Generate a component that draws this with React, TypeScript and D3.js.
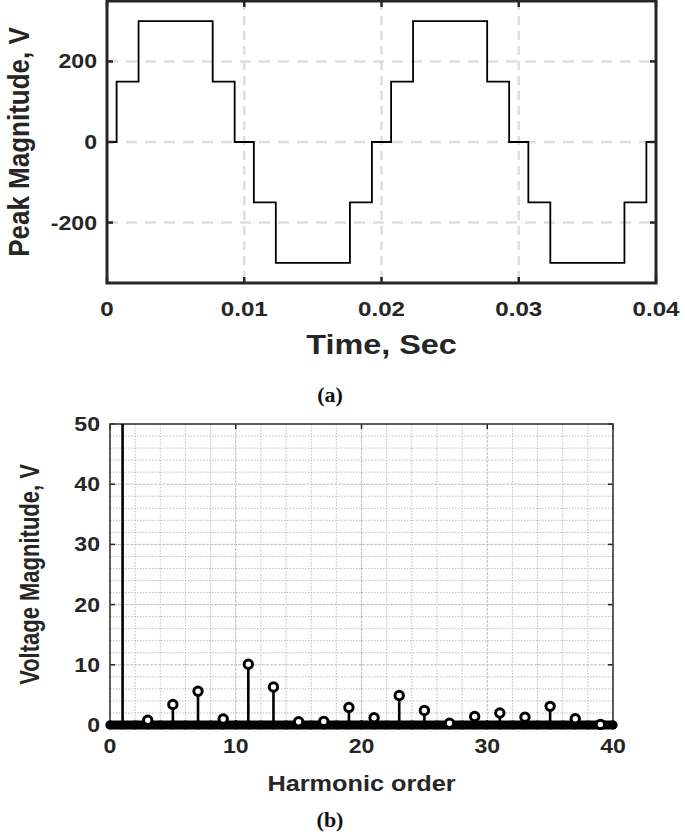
import React from "react";
import * as d3 from "d3";

// ---------- data ----------
// (a) stepped output voltage: switching instants (s) and the level held after each
const stepTimes = [0, 0.0007, 0.0023, 0.0077, 0.0093, 0.0107, 0.0123, 0.0177, 0.0193, 0.0207, 0.0223, 0.0277, 0.0293, 0.0307, 0.0323, 0.0377, 0.0393, 0.04];
const stepLevels = [0, 150, 300, 150, 0, -150, -300, -150, 0, 150, 300, 150, 0, -150, -300, -150, 0];
const timeTicks = [0, 0.01, 0.02, 0.03, 0.04];
const timeTickLabels = ["0", "0.01", "0.02", "0.03", "0.04"];
const voltTicks = [-200, 0, 200];

// (b) harmonic spectrum
const harmonicOrders = [1, 3, 5, 7, 9, 11, 13, 15, 17, 19, 21, 23, 25, 27, 29, 31, 33, 35, 37, 39];
const harmonicMags = [254, 0.8, 3.4, 5.6, 1.0, 10.1, 6.3, 0.55, 0.6, 2.9, 1.2, 4.9, 2.4, 0.3, 1.4, 2.0, 1.3, 3.1, 1.05, 0.1];
const orderTicks = [0, 10, 20, 30, 40];
const magTicks = [0, 10, 20, 30, 40, 50];

const FONT = "'Liberation Sans', Arial, Helvetica, sans-serif";
const SERIF = "'Liberation Serif', 'DejaVu Serif', serif";
const AX = "#262626";

export default function App() {
  // ---- top plot geometry ----
  const tL = 107, tR = 656, tT = 1, tB = 283;
  const xT = d3.scaleLinear().domain([0, 0.04]).range([tL, tR]);
  const yT = d3.scaleLinear().domain([-350, 350]).range([tB, tT]);
  const wavePts: [number, number][] = stepLevels.map((v, i) => [stepTimes[i], v]);
  wavePts.push([stepTimes[stepTimes.length - 1], stepLevels[stepLevels.length - 1]]);
  const wave = d3
    .line<[number, number]>()
    .x((d) => xT(d[0]))
    .y((d) => yT(d[1]))
    .curve(d3.curveStepAfter)(wavePts) as string;

  // ---- bottom plot geometry ----
  const bL = 110, bR = 613, bT = 424, bB = 725;
  const xB = d3.scaleLinear().domain([0, 40]).range([bL, bR]);
  const yB = d3.scaleLinear().domain([0, 50]).range([bB, bT]);
  const minorX = d3.range(0, 40.01, 2);
  const minorY = d3.range(0, 50.01, 2);
  const baseOrders = d3.range(0, 40.01, 1);

  return (
    <svg width={685} height={832} style={{ display: "block", position: "absolute", left: 0, top: 0 }}>
      <rect x={0} y={0} width={685} height={832} fill="#fff" />

      {/* ============ (a) ============ */}
      {timeTicks.slice(1, -1).map((t) => (
        <line key={"gx" + t} x1={xT(t)} x2={xT(t)} y1={tT} y2={tB} stroke="#dedede" strokeWidth={2.5} strokeDasharray="9,6" />
      ))}
      {voltTicks.map((v) => (
        <line key={"gy" + v} x1={tL} x2={tR} y1={yT(v)} y2={yT(v)} stroke="#dedede" strokeWidth={2.5} strokeDasharray="11,8" />
      ))}
      <path d={wave} fill="none" stroke="#000" strokeWidth={1.8} />
      {timeTicks.map((t) => (
        <g key={"tt" + t}>
          <line x1={xT(t)} x2={xT(t)} y1={tB} y2={tB - 6} stroke={AX} strokeWidth={2.5} />
          <line x1={xT(t)} x2={xT(t)} y1={tT} y2={tT + 6} stroke={AX} strokeWidth={2.5} />
        </g>
      ))}
      {voltTicks.map((v) => (
        <g key={"vt" + v}>
          <line x1={tL} x2={tL + 6} y1={yT(v)} y2={yT(v)} stroke={AX} strokeWidth={2.5} />
          <line x1={tR} x2={tR - 6} y1={yT(v)} y2={yT(v)} stroke={AX} strokeWidth={2.5} />
        </g>
      ))}
      <rect x={tL} y={tT} width={tR - tL} height={tB - tT} fill="none" stroke={AX} strokeWidth={3} />
      <g fontFamily={FONT} fontWeight="bold" fill={AX}>
        {timeTicks.map((t, i) => (
          <text key={"tl" + t} transform={`translate(${xT(t)},316) scale(1.15,1)`} fontSize={21} textAnchor="middle">
            {timeTickLabels[i]}
          </text>
        ))}
        {voltTicks.map((v) => (
          <text key={"vl" + v} transform={`translate(97,${yT(v) + 7}) scale(1.1,1)`} fontSize={21} textAnchor="end">
            {v}
          </text>
        ))}
        <text transform={`translate(${(tL + tR) / 2},354) scale(1.2,1)`} fontSize={27} textAnchor="middle">Time, Sec</text>
        <text transform={`translate(29,${(tT + tB) / 2}) scale(1.1,1) rotate(-90)`} fontSize={26} textAnchor="middle">
          Peak Magnitude, V
        </text>
      </g>
      <text transform="translate(330,402) scale(1.1,1)" fontFamily={SERIF} fontWeight="bold" fontSize={20} textAnchor="middle" fill="#111">
        (a)
      </text>

      {/* ============ (b) ============ */}
      <defs>
        <clipPath id="clipB">
          <rect x={bL} y={bT} width={bR - bL} height={bB - bT + 10} />
        </clipPath>
      </defs>
      {minorX.map((h) => (
        <line key={"mx" + h} x1={xB(h)} x2={xB(h)} y1={bT} y2={bB} stroke="#bdbdbd" strokeWidth={1} strokeDasharray={h % 10 === 0 ? "3,1" : "1.5,1.5"} />
      ))}
      {minorY.map((m) => (
        <line key={"my" + m} x1={bL} x2={bR} y1={yB(m)} y2={yB(m)} stroke="#bdbdbd" strokeWidth={1} strokeDasharray={m % 10 === 0 ? "3,1" : "1.5,1.5"} />
      ))}
      {orderTicks.map((h) => (
        <g key={"ot" + h}>
          <line x1={xB(h)} x2={xB(h)} y1={bB} y2={bB - 5} stroke={AX} strokeWidth={1.5} />
          <line x1={xB(h)} x2={xB(h)} y1={bT} y2={bT + 5} stroke={AX} strokeWidth={1.5} />
        </g>
      ))}
      {magTicks.map((m) => (
        <g key={"mt" + m}>
          <line x1={bL} x2={bL + 5} y1={yB(m)} y2={yB(m)} stroke={AX} strokeWidth={1.5} />
          <line x1={bR} x2={bR - 5} y1={yB(m)} y2={yB(m)} stroke={AX} strokeWidth={1.5} />
        </g>
      ))}
      <rect x={bL} y={bT} width={bR - bL} height={bB - bT} fill="none" stroke="#3a3a3a" strokeWidth={1.6} />
      {/* baseline band of zero-valued stems */}
      <line x1={xB(0)} x2={xB(40)} y1={yB(0)} y2={yB(0)} stroke="#000" strokeWidth={9} strokeLinecap="round" />
      {baseOrders.map((h) => (
        <circle key={"bo" + h} cx={xB(h)} cy={yB(0)} r={3.2} fill="none" stroke="#000" strokeWidth={2.4} />
      ))}
      <g clipPath="url(#clipB)">
        {harmonicOrders.map((h, i) => (
          <line key={"st" + h} x1={xB(h)} x2={xB(h)} y1={yB(0)} y2={yB(harmonicMags[i])} stroke="#000" strokeWidth={2.6} />
        ))}
        {harmonicOrders.map((h, i) =>
          harmonicMags[i] <= 50 ? (
            <circle key={"mk" + h} cx={xB(h)} cy={yB(harmonicMags[i])} r={4.2} fill="#fff" stroke="#000" strokeWidth={3} />
          ) : null
        )}
      </g>
      <g fontFamily={FONT} fontWeight="bold" fill={AX}>
        {orderTicks.map((h) => (
          <text key={"ol" + h} transform={`translate(${xB(h)},753) scale(1.1,1)`} fontSize={21} textAnchor="middle">
            {h}
          </text>
        ))}
        {magTicks.map((m) => (
          <text key={"ml" + m} transform={`translate(100,${yB(m) + 7}) scale(1.1,1)`} fontSize={21} textAnchor="end">
            {m}
          </text>
        ))}
        <text transform={`translate(${(bL + bR) / 2},791) scale(1.15,1)`} fontSize={22} textAnchor="middle">Harmonic order</text>
        <text transform={`translate(39,${(bT + bB) / 2}) scale(1.25,1) rotate(-90)`} fontSize={22} textAnchor="middle">
          Voltage Magnitude, V
        </text>
      </g>
      <text transform="translate(330,827) scale(1.1,1)" fontFamily={SERIF} fontWeight="bold" fontSize={20} textAnchor="middle" fill="#111">
        (b)
      </text>
    </svg>
  );
}
